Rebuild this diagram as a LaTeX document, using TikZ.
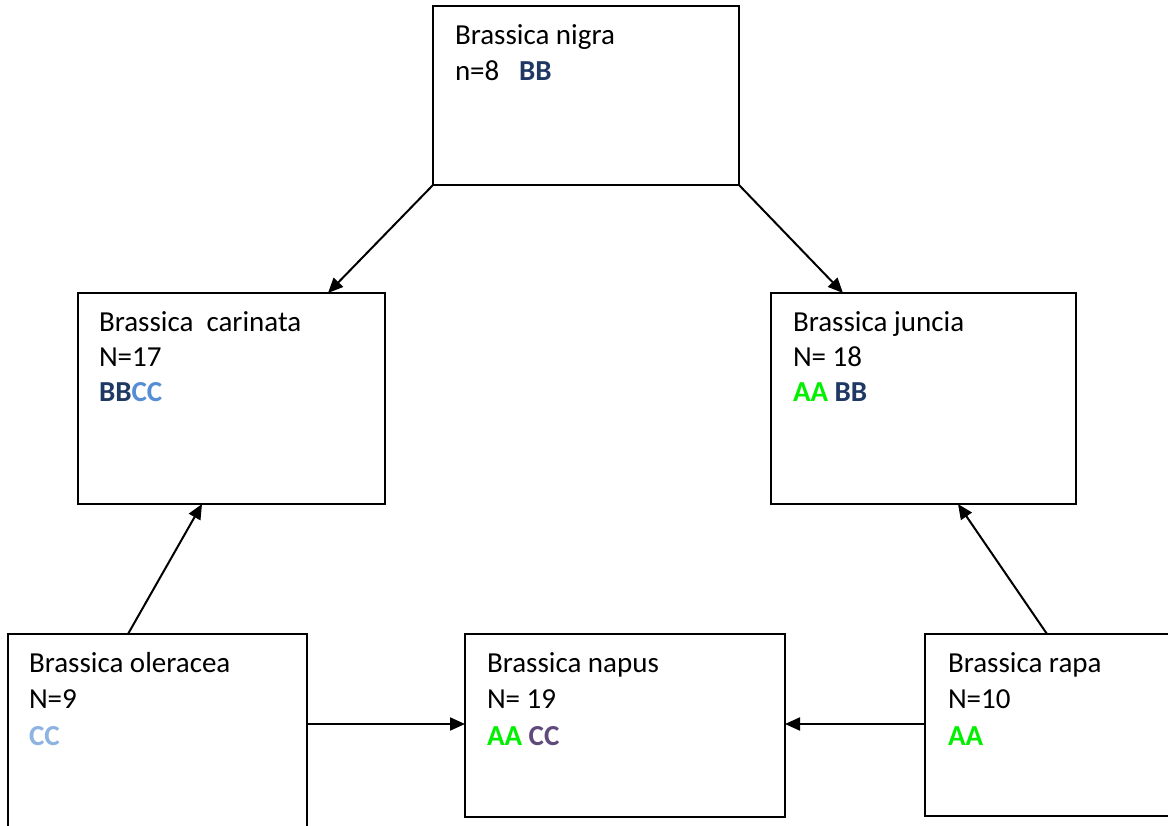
\documentclass[tikz,border=0pt]{standalone}
\usepackage{fontspec}
\setmainfont{Carlito}
\usetikzlibrary{arrows.meta,calc}
\definecolor{bbcol}{HTML}{1F3864}
\definecolor{cccar}{HTML}{558ED5}
\definecolor{ccole}{HTML}{8DB3E2}
\definecolor{ccnap}{HTML}{604A7B}
\definecolor{aacol}{HTML}{00F000}
\tikzset{
  box/.style={draw=black, line width=1.8pt, rectangle, anchor=north west, inner sep=0pt, outer sep=0pt},
  txt/.style={anchor=base west, inner sep=0pt, outer sep=0pt, font=\fontsize{29}{35}\selectfont},
  arr/.style={line width=2pt, -{Triangle[length=15pt,width=13pt]}}
}
\begin{document}
\begin{tikzpicture}[x=1pt,y=-1pt]
\clip (0,0) rectangle (1168,826);
\fill[white] (0,0) rectangle (1168,826);
% boxes
\node[box, minimum width=306pt, minimum height=179pt] (nigra) at (433,6) {};
\node[box, minimum width=307pt, minimum height=211pt] (carinata) at (78,293) {};
\node[box, minimum width=305pt, minimum height=211pt] (juncia) at (771,293) {};
\node[box, minimum width=299pt, minimum height=230pt] (oleracea) at (8,634) {};
\node[box, minimum width=320pt, minimum height=183pt] (napus) at (465,634) {};
\node[box, minimum width=300pt, minimum height=182pt] (rapa) at (925,634) {};
% texts
\node[txt] (nigra1) at (455,45) {Brassica nigra};
\node[txt] (nigra2) at (455,81) {n=8\ \ \ \textbf{\textcolor{bbcol}{BB}}};
\node[txt] (car1) at (99,332) {Brassica\ \ carinata};
\node[txt] (car2) at (99,367) {N=17};
\node[txt] (car3) at (99,402) {\textbf{\textcolor{bbcol}{BB}\textcolor{cccar}{CC}}};
\node[txt] (jun1) at (793,332) {Brassica juncia};
\node[txt] (jun2) at (793,367) {N= 18};
\node[txt] (jun3) at (793,402) {\textbf{\textcolor{aacol}{AA} \textcolor{bbcol}{BB}}};
\node[txt] (ole1) at (29,672) {Brassica oleracea};
\node[txt] (ole2) at (29,708) {N=9};
\node[txt] (ole3) at (29,745) {\textbf{\textcolor{ccole}{CC}}};
\node[txt] (nap1) at (487,672) {Brassica napus};
\node[txt] (nap2) at (487,708) {N= 19};
\node[txt] (nap3) at (487,745) {\textbf{\textcolor{aacol}{AA} \textcolor{ccnap}{CC}}};
\node[txt] (rap1) at (948,672) {Brassica rapa};
\node[txt] (rap2) at (948,708) {N=10};
\node[txt] (rap3) at (948,745) {\textbf{\textcolor{aacol}{AA}}};
% arrows
\draw[arr] (nigra.south west) -- ($(carinata.north west)+(250,0)$);
\draw[arr] (nigra.south east) -- ($(juncia.north west)+(72,0)$);
\draw[arr] ($(oleracea.north west)+(120,0)$) -- ($(carinata.south west)+(124,0)$);
\draw[arr] ($(rapa.north west)+(122,0)$) -- ($(juncia.south west)+(187,0)$);
\draw[arr] ($(oleracea.north east)+(0,90)$) -- ($(napus.north west)+(0,90)$);
\draw[arr] ($(rapa.north west)+(0,90)$) -- ($(napus.north east)+(0,90)$);
\end{tikzpicture}
\end{document}
